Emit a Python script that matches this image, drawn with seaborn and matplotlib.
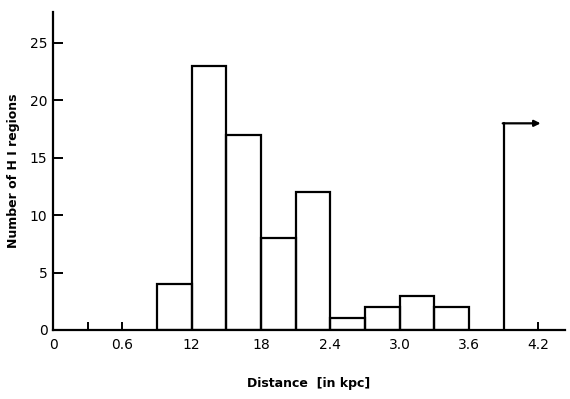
import numpy as np
import matplotlib
matplotlib.use("Agg")
import matplotlib.pyplot as plt
import seaborn as sns

# Data
bin_edges = [0.9, 1.2, 1.5, 1.8, 2.1, 2.4, 2.7, 3.0, 3.3, 3.6]
counts = [4, 23, 17, 8, 12, 1, 2, 3, 2]
open_bin_start = 3.9
open_bin_count = 18
open_bin_arrow_end = 4.22
xtick_pos = [0, 0.6, 1.2, 1.8, 2.4, 3.0, 3.6, 4.2]
xtick_labels = ["0", "0.6", "12", "18", "2.4", "3.0", "3.6", "4.2"]
ytick_pos = [0, 5, 10, 15, 20, 25]

sns.set_style("ticks")
plt.rcParams['font.family'] = ['DejaVu Sans']
plt.rcParams['text.color'] = 'black'
plt.rcParams['axes.labelcolor'] = 'black'

fig = plt.figure(figsize=(5.7, 3.99), dpi=100)
ax = fig.add_axes([0.093, 0.173, 0.898, 0.797])

centers = [(a + b) / 2 for a, b in zip(bin_edges[:-1], bin_edges[1:])]
sns.histplot(x=centers, weights=counts, bins=bin_edges, fill=False,
             element="bars", color="black", linewidth=1.6, ax=ax)

# open-ended last bin: left edge + top with arrow
ax.plot([open_bin_start, open_bin_start], [0, open_bin_count], color="black", lw=1.6)
ax.annotate("", xy=(open_bin_arrow_end, open_bin_count),
            xytext=(open_bin_start - 0.008, open_bin_count),
            arrowprops=dict(arrowstyle="-|>", color="black", lw=1.6,
                            mutation_scale=9, shrinkA=0, shrinkB=0))

ax.set_xlim(0, 4.43)
ax.set_ylim(0, 27.7)
ax.set_xticks(xtick_pos)
ax.set_xticklabels(xtick_labels)
ax.set_xticks([0.3, 0.9, 1.5, 2.1, 2.7, 3.3, 3.9], minor=True)
ax.set_yticks(ytick_pos)
ax.tick_params(axis="both", which="both", direction="in", width=1.4, colors="black",
               labelcolor="black", labelsize=10)
ax.tick_params(axis="x", which="major", length=6, pad=6)
ax.tick_params(axis="x", which="minor", length=6)
ax.tick_params(axis="y", length=7, pad=4)

for s in ["top", "right"]:
    ax.spines[s].set_visible(False)
for s in ["left", "bottom"]:
    ax.spines[s].set_linewidth(1.6)
    ax.spines[s].set_color("black")

ax.set_xlabel("Distance  [in kpc]", fontsize=9, fontweight="bold", labelpad=18,
              color="black")
ax.set_ylabel("Number of H I regions", fontsize=9, fontweight="bold", labelpad=7,
              color="black")

fig.savefig("out.png", dpi=100)
